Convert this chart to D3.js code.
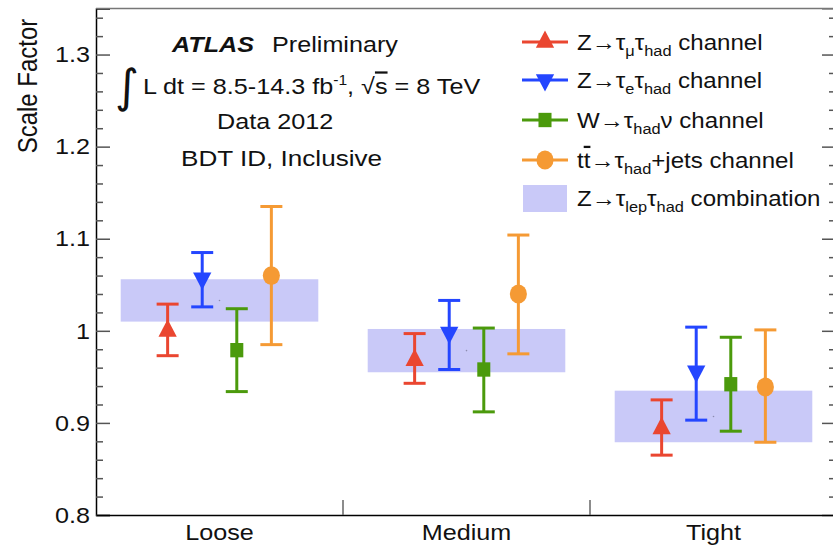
<!DOCTYPE html>
<html>
<head>
<meta charset="utf-8">
<script src="https://cdn.jsdelivr.net/npm/d3@7"></script>
<style>
  body { margin: 0; background: white; }
  svg { display: block; font-family: "Liberation Sans", Arial, sans-serif; }
</style>
</head>
<body>
<svg id="chart" width="833" height="547"></svg>
<script>
// Chart data
const categories = ["Loose", "Medium", "Tight"];
const seriesNames = ["mu", "e", "w", "tt"];

const muVal = [1.000, 0.968, 0.894];
const muUp  = [1.029, 0.997, 0.925];
const muLo  = [0.973, 0.943, 0.865];

const eVal = [1.057, 0.998, 0.956];
const eUp  = [1.085, 1.033, 1.004];
const eLo  = [1.026, 0.958, 0.903];

const wVal = [0.979, 0.958, 0.942];
const wUp  = [1.024, 1.003, 0.993];
const wLo  = [0.934, 0.912, 0.891];

const ttVal = [1.060, 1.040, 0.939];
const ttUp  = [1.135, 1.104, 1.001];
const ttLo  = [0.985, 0.975, 0.879];

const combLo = [1.010, 0.955, 0.879];
const combHi = [1.056, 1.002, 0.935];

const yMajorTicks = [0.8, 0.9, 1.0, 1.1, 1.2, 1.3];
const yTickLabels = ["0.8", "0.9", "1", "1.1", "1.2", "1.3"];

const colors = {
  mu: "#ea4630",
  e: "#2446ff",
  w: "#4b9a0c",
  tt: "#f59a34",
  comb: "#c9c9f8"
};

const svg = d3.select("#chart");
const plotLeft = 96, plotRight = 837, plotTop = 8.5, plotBottom = 515;
const SX = 1.12;   // source picture is a bit stretched horizontally
const FS = 22.5;

const x = d3.scaleBand().domain(categories).range([plotLeft, plotRight]).padding(0);
const bw = x.bandwidth();
const xs = d3.scalePoint().domain(seriesNames).range([0.29 * bw, 0.71 * bw]);
const y = d3.scaleLinear().domain([0.8, 1.35]).range([plotBottom, plotTop]);

// stretched text with sub/superscripts
function stext(g, tx, ty, parts, opts = {}) {
  const fs = opts.size || FS;
  const sx = opts.sx || SX;
  const t = g.append("text")
    .attr("transform", `translate(${tx},${ty}) scale(${sx},1)`)
    .attr("text-anchor", opts.anchor || "start")
    .style("font-size", fs + "px")
    .style("fill", "#111");
  if (opts.weight) t.style("font-weight", opts.weight);
  if (opts.italic) t.style("font-style", "italic");
  let shift = 0;
  parts.forEach(p => {
    const [txt, kind] = Array.isArray(p) ? p : [p, "n"];
    const ts = t.append("tspan").text(txt);
    let target = 0;
    if (kind === "sub") { ts.style("font-size", (fs * 0.68) + "px"); target = 6; }
    if (kind === "sup") { ts.style("font-size", (fs * 0.62) + "px"); target = -9; }
    if (kind === "over") { ts.style("text-decoration", "overline"); }
    if (target !== shift) { ts.attr("dy", target - shift); shift = target; }
  });
  return t;
}

// combination bands
const bands = svg.append("g");
categories.forEach((c, i) => {
  bands.append("rect")
    .attr("x", x(c) + 0.1 * bw)
    .attr("width", 0.8 * bw)
    .attr("y", y(combHi[i]))
    .attr("height", y(combLo[i]) - y(combHi[i]))
    .attr("fill", colors.comb);
  bands.append("circle")
    .attr("cx", x(c) + bw / 2)
    .attr("cy", y((combHi[i] + combLo[i]) / 2))
    .attr("r", 0.8)
    .attr("fill", "#8c8cb0");
});

// axes
const axisG = svg.append("g");
const minorTicks = d3.range(0.8, 1.3501, 0.02).filter(v => Math.abs(v * 10 - Math.round(v * 10)) > 1e-6);

const yAxis = axisG.append("g").attr("transform", `translate(${plotLeft},0)`)
  .call(d3.axisLeft(y).tickValues(yMajorTicks).tickSize(-14).tickPadding(6)
    .tickFormat((d, i) => yTickLabels[i]));
yAxis.select(".domain").attr("stroke", "#000").attr("stroke-width", 1.5);
yAxis.selectAll(".tick line").attr("stroke", "#555").attr("stroke-width", 1.5);
yAxis.selectAll(".tick text")
  .style("font-size", FS + "px").style("fill", "#111")
  .attr("x", -6 / SX).attr("transform", `scale(${SX},1)`);

axisG.append("g").attr("transform", `translate(${plotLeft},0)`)
  .call(d3.axisLeft(y).tickValues(minorTicks).tickSize(-7).tickFormat(""))
  .call(a => a.select(".domain").remove())
  .selectAll("line").attr("stroke", "#555").attr("stroke-width", 1.5);

const yRight = axisG.append("g").attr("transform", `translate(${plotRight},0)`)
  .call(d3.axisRight(y).tickValues(yMajorTicks).tickSize(-15).tickFormat(""));
yRight.selectAll("line").attr("stroke", "#555").attr("stroke-width", 1.5);
yRight.select(".domain").attr("stroke", "#555");
axisG.append("g").attr("transform", `translate(${plotRight},0)`)
  .call(d3.axisRight(y).tickValues(minorTicks).tickSize(-8).tickFormat(""))
  .call(a => a.select(".domain").remove())
  .selectAll("line").attr("stroke", "#555").attr("stroke-width", 1.5);

// bottom axis: separators between bins
const xAxis = axisG.append("g").attr("transform", `translate(0,${plotBottom})`)
  .call(d3.axisBottom(x).tickSize(0).tickPadding(0).tickFormat(""));
xAxis.select(".domain").attr("stroke", "#000").attr("stroke-width", 1.5);
categories.slice(1).forEach(c => {
  axisG.append("line")
    .attr("x1", x(c)).attr("x2", x(c))
    .attr("y1", plotBottom - 15).attr("y2", plotBottom)
    .attr("stroke", "#666").attr("stroke-width", 1.5);
});
categories.forEach(c => {
  stext(axisG, x(c) + bw / 2, 540, [c], { anchor: "middle" });
});

// top frame
axisG.append("line")
  .attr("x1", plotLeft).attr("x2", plotRight).attr("y1", plotTop).attr("y2", plotTop)
  .attr("stroke", "#777").attr("stroke-width", 1.5);

// y title
svg.append("text")
  .attr("transform", `translate(37,86) rotate(-90) scale(1,${SX})`)
  .attr("text-anchor", "middle")
  .style("font-size", "24px")
  .style("fill", "#111")
  .text("Scale Factor");

// markers
const symbols = {
  mu: d3.symbol().type(d3.symbolTriangle).size(145),
  e: d3.symbol().type(d3.symbolTriangle).size(145),
  w: d3.symbol().type(d3.symbolSquare).size(170),
  tt: d3.symbol().type(d3.symbolCircle).size(230)
};
const rot = { mu: 0, e: 180, w: 0, tt: 0 };

const seriesData = {
  mu: [muVal, muUp, muLo],
  e: [eVal, eUp, eLo],
  w: [wVal, wUp, wLo],
  tt: [ttVal, ttUp, ttLo]
};

const pts = svg.append("g");
seriesNames.forEach(s => {
  const [v, up, lo] = seriesData[s];
  categories.forEach((c, i) => {
    const cx = x(c) + xs(s);
    pts.append("line")
      .attr("x1", cx).attr("x2", cx)
      .attr("y1", y(up[i])).attr("y2", y(lo[i]))
      .attr("stroke", colors[s]).attr("stroke-width", 3);
    [up[i], lo[i]].forEach(e => {
      pts.append("line")
        .attr("x1", cx - 11).attr("x2", cx + 11)
        .attr("y1", y(e)).attr("y2", y(e))
        .attr("stroke", colors[s]).attr("stroke-width", 3);
    });
    pts.append("path")
      .attr("d", symbols[s]())
      .attr("transform", `translate(${cx},${y(v[i])}) rotate(${rot[s]}) scale(1,1.1)`)
      .attr("fill", colors[s]);
  });
});

// ATLAS label block
const lab = svg.append("g");
stext(lab, 172, 52, ["ATLAS"], { weight: "bold", italic: true });
stext(lab, 272, 52, ["Preliminary"]);
lab.append("text")
  .attr("x", 115).attr("y", 102)
  .style("font-family", "DejaVu Sans")
  .style("font-size", "46px")
  .style("fill", "#111")
  .text("∫");
stext(lab, 143, 94, ["L dt = 8.5-14.3 fb", ["-1", "sup"], ",  ", "√", ["s", "over"], " = 8 TeV"]);
stext(lab, 217, 129, ["Data 2012"]);
stext(lab, 181, 166, ["BDT ID, Inclusive"], { sx: 1.16 });

// legend
const legend = svg.append("g");
const legendRows = [
  { key: "mu", y: 42, parts: ["Z→τ", ["μ", "sub"], "τ", ["had", "sub"], " channel"] },
  { key: "e", y: 80, parts: ["Z→τ", ["e", "sub"], "τ", ["had", "sub"], " channel"] },
  { key: "w", y: 120, parts: ["W→τ", ["had", "sub"], "ν channel"] },
  { key: "tt", y: 160, parts: ["t", ["t", "over"], "→τ", ["had", "sub"], "+jets channel"] },
  { key: "comb", y: 198, parts: ["Z→τ", ["lep", "sub"], "τ", ["had", "sub"], " combination"] }
];
legendRows.forEach(r => {
  if (r.key === "comb") {
    legend.append("rect")
      .attr("x", 523).attr("y", r.y - 13).attr("width", 44).attr("height", 27)
      .attr("fill", colors.comb);
  } else {
    legend.append("line")
      .attr("x1", 522).attr("x2", 568).attr("y1", r.y).attr("y2", r.y)
      .attr("stroke", colors[r.key]).attr("stroke-width", 3);
    legend.append("path")
      .attr("d", symbols[r.key]())
      .attr("transform", `translate(545,${r.y}) rotate(${rot[r.key]}) scale(1,1.1)`)
      .attr("fill", colors[r.key]);
  }
  stext(legend, 577, r.y + 8, r.parts, { sx: 1.07 });
});
</script>
</body>
</html>
